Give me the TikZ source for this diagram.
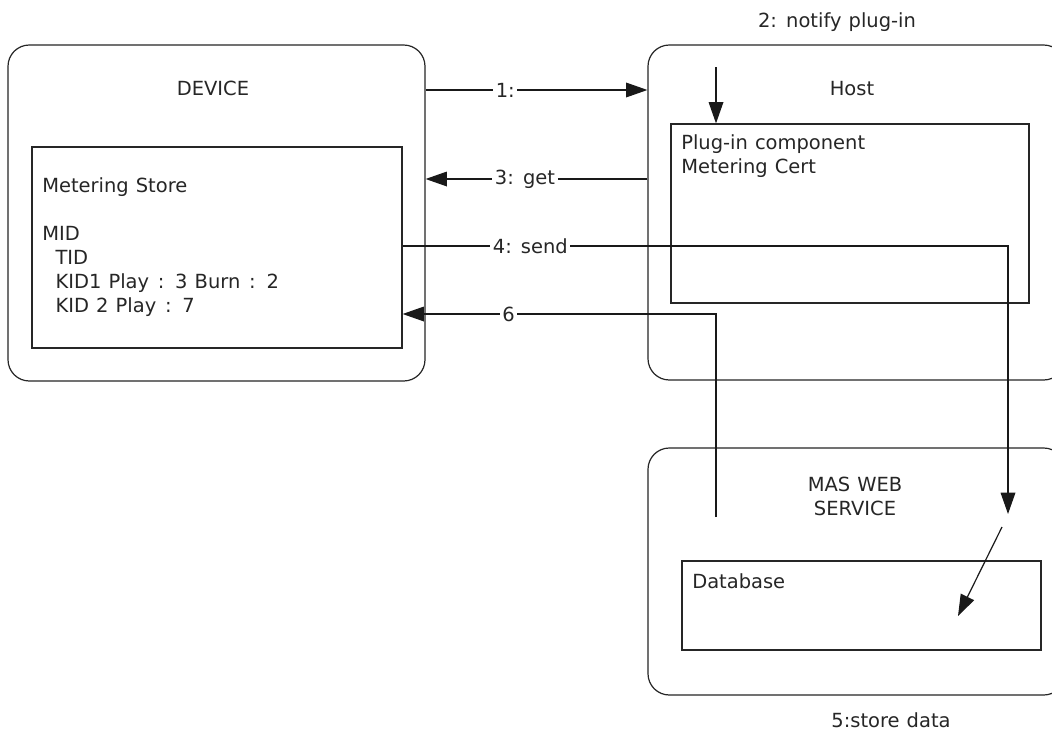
\documentclass[tikz,border=0pt]{standalone}
\usepackage{fontspec}
\setmainfont{DejaVu Sans}[WordSpace=1.15]
\usetikzlibrary{arrows.meta,fit}
\newcommand{\colonsp}{\kern1.2pt:\kern1.2pt}
\begin{document}
\begin{tikzpicture}[x=0.75pt,y=-0.75pt,
  box/.style={draw=black!85, line width=0.9pt, inner sep=0pt},
  outerbox/.style={box, rounded corners=16pt},
  lbl/.style={font=\fontsize{14.6}{18}\selectfont, inner sep=0pt, text=black!85},
  elbl/.style={lbl, fill=white, inner xsep=2pt, inner ysep=1pt},
  conn/.style={line width=0.9pt, draw=black!90},
  arr/.style={conn, -{Triangle[length=16pt,width=11pt]}},
]
\clip (0,0) rectangle (1052,732);
\fill[white] (0,0) rectangle (1052,732);

% boxes
\coordinate (d1) at (8,45);    \coordinate (d2) at (425,381);
\coordinate (s1) at (32,147);  \coordinate (s2) at (402,348);
\coordinate (h1) at (648,45);  \coordinate (h2) at (1065,380);
\coordinate (p1) at (671,124); \coordinate (p2) at (1029,303);
\coordinate (m1) at (648,448); \coordinate (m2) at (1065,695);
\coordinate (b1) at (682,561); \coordinate (b2) at (1041,650);

\node[outerbox, fit=(d1)(d2)] (device) {};
\node[box, fit=(s1)(s2)] (store) {};
\node[outerbox, fit=(h1)(h2)] (host) {};
\node[box, fit=(p1)(p2)] (plugin) {};
\node[outerbox, fit=(m1)(m2)] (mas) {};
\node[box, fit=(b1)(b2)] (db) {};

% texts
\node[lbl, anchor=base] (devtitle) at (213,95) {DEVICE};
\node[lbl, anchor=base] (hosttitle) at (852,95) {Host};
\node[lbl, anchor=base] (notify) at (837,27) {2: notify plug-in};
\node[lbl, anchor=base] (storedata) at (891,727) {5:store data};
\node[lbl, anchor=north, align=center] (mastitle) at (855,477) {MAS WEB\\SERVICE};
\node[lbl, anchor=north west, align=left] (storetext) at (42,177)
  {Metering Store\\ \mbox{}\\MID\\\hspace*{10pt}TID\\\hspace*{10pt}KID1 Play \colonsp{} 3 Burn \colonsp{} 2\\\hspace*{10pt}KID 2 Play \colonsp{} 7};
\node[lbl, anchor=north west, align=left] (plugtext) at (681,134) {Plug-in component\\Metering Cert};
\node[lbl, anchor=north west] (dbtext) at (692,573) {Database};

% connectors
\coordinate (notifystart) at (716,67);
\coordinate (sendend) at (1008,514);
\coordinate (storestart) at (1002,527);
\coordinate (storeend) at (958,616);
\coordinate (retstart) at (716,517);

\draw[arr] (device.east |- 0,90) -- node[elbl, pos=0.359] {1:} (host.west |- 0,90);
\draw[arr] (host.west |- 0,179) -- node[elbl, pos=0.552] {3: get} (device.east |- 0,179);
\draw[arr] (notifystart) -- (plugin.north -| notifystart);
\draw[arr] (store.east |- 0,246) -- node[elbl, pos=0.211] {4: send} (sendend |- 0,246) -- (sendend);
\draw[arr] (storestart) -- (storeend);
\draw[arr] (retstart) -- (retstart |- 0,314) -- node[elbl, pos=0.662] {6} (store.east |- 0,314);
\end{tikzpicture}
\end{document}
